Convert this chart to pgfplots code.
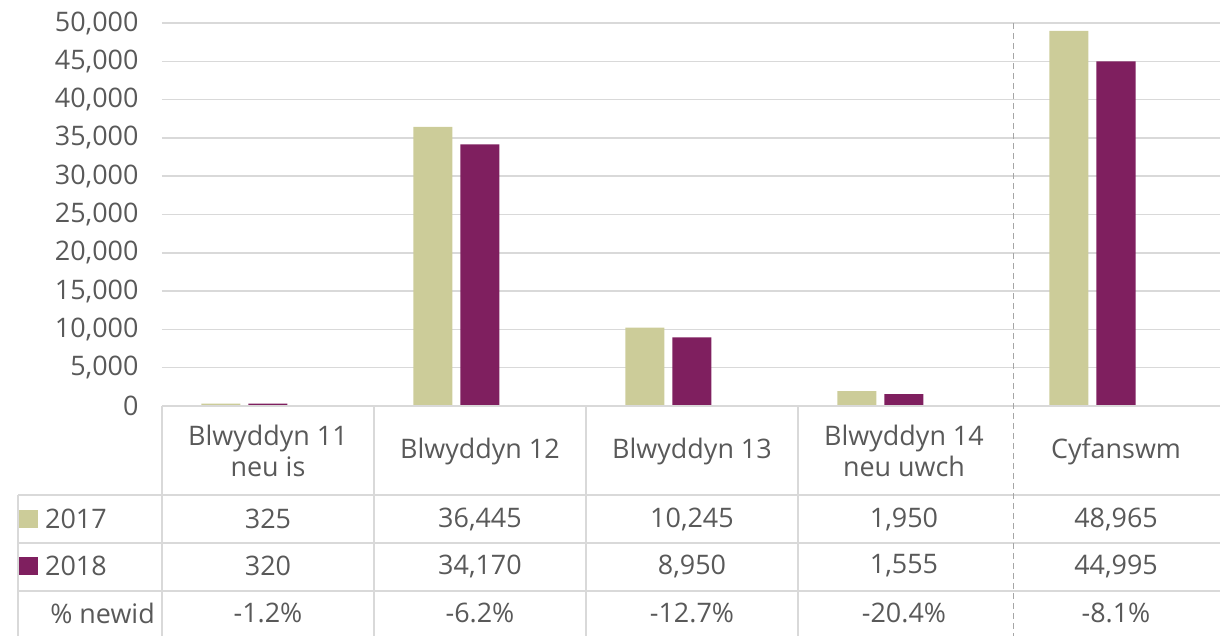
\documentclass[border=0pt]{standalone}
\usepackage{pgfplots}
\pgfplotsset{compat=1.18}
\usepackage{fontspec}
\setmainfont{Open Sans}
\definecolor{c17}{HTML}{CCCC99}
\definecolor{c18}{HTML}{7F1F5F}
\definecolor{txt}{HTML}{595959}
\definecolor{grd}{HTML}{D9D9D9}
\definecolor{dsh}{HTML}{A6A6A6}
\newcommand\fs{\fontsize{27}{31}\selectfont}
\begin{document}
\begin{tikzpicture}
\begin{axis}[
  scale only axis, width=1060bp, height=383bp,
  xmin=-0.5, xmax=4.5, ymin=0, ymax=50000,
  axis line style={draw=none},
  xtick=\empty,
  ytick={0,5000,...,50000},
  ymajorgrids, major grid style={grd, line width=1.5bp},
  major tick length=0pt,
  yticklabel style={font=\fs, text=txt, xshift=-20bp},
  /pgf/number format/1000 sep={,},
  /pgf/number format/assume math mode=true,
  scaled y ticks=false,
  clip=false,
  ybar, bar width=0.184,
]
\addplot[fill=c17, draw=none, bar shift=-0.222] coordinates {(0,325) (1,36445) (2,10245) (3,1950) (4,48965)};
\addplot[fill=c18, draw=none, bar shift=0] coordinates {(0,320) (1,34170) (2,8950) (3,1555) (4,44995)};

% data table grid
\draw[grd, line width=1.5bp] (axis cs:-0.5,0) -- (axis cs:4.5,0);
\draw[grd, line width=1.5bp] (axis cs:-1.179,-11619) -- (axis cs:4.5,-11619);
\draw[grd, line width=1.5bp] (axis cs:-1.179,-17885) -- (axis cs:4.5,-17885);
\draw[grd, line width=1.5bp] (axis cs:-1.179,-24151) -- (axis cs:4.5,-24151);
\draw[grd, line width=1.5bp] (axis cs:-1.179,-11619) -- (axis cs:-1.179,-31000);
\pgfplotsinvokeforeach{-0.5,0.5,1.5,2.5,4.5}{
  \draw[grd, line width=1.5bp] (axis cs:#1,0) -- (axis cs:#1,-31000);
}
\draw[dsh, line width=1bp, dash pattern=on 6bp off 4bp] (axis cs:3.515,50000) -- (axis cs:3.515,-31000);

% header row
\node[font=\fs, text=txt, align=center] at (axis cs:0,-5875) {Blwyddyn 11\\neu is};
\node[font=\fs, text=txt, align=center] at (axis cs:1,-5875) {Blwyddyn 12};
\node[font=\fs, text=txt, align=center] at (axis cs:2,-5875) {Blwyddyn 13};
\node[font=\fs, text=txt, align=center] at (axis cs:3,-5875) {Blwyddyn 14\\neu uwch};
\node[font=\fs, text=txt, align=center] at (axis cs:4,-5875) {Cyfanswm};

% legend column
\fill[c17] (axis cs:-1.174,-13577) rectangle (axis cs:-1.085,-15927);
\fill[c18] (axis cs:-1.174,-19713) rectangle (axis cs:-1.085,-22063);
\node[font=\fs, text=txt, anchor=west, inner sep=0pt] at (axis cs:-1.052,-14752) {2017};
\node[font=\fs, text=txt, anchor=west, inner sep=0pt] at (axis cs:-1.052,-20888) {2018};
\node[font=\fs, text=txt, anchor=east, inner sep=0pt] at (axis cs:-0.533,-27024) {\% newid};

% rows
\node[font=\fs, text=txt] at (axis cs:0,-14752) {325};
\node[font=\fs, text=txt] at (axis cs:1,-14752) {36,445};
\node[font=\fs, text=txt] at (axis cs:2,-14752) {10,245};
\node[font=\fs, text=txt] at (axis cs:3,-14752) {1,950};
\node[font=\fs, text=txt] at (axis cs:4,-14752) {48,965};
\node[font=\fs, text=txt] at (axis cs:0,-20888) {320};
\node[font=\fs, text=txt] at (axis cs:1,-20888) {34,170};
\node[font=\fs, text=txt] at (axis cs:2,-20888) {8,950};
\node[font=\fs, text=txt] at (axis cs:3,-20888) {1,555};
\node[font=\fs, text=txt] at (axis cs:4,-20888) {44,995};
\node[font=\fs, text=txt] at (axis cs:0,-27024) {-1.2\%};
\node[font=\fs, text=txt] at (axis cs:1,-27024) {-6.2\%};
\node[font=\fs, text=txt] at (axis cs:2,-27024) {-12.7\%};
\node[font=\fs, text=txt] at (axis cs:3,-27024) {-20.4\%};
\node[font=\fs, text=txt] at (axis cs:4,-27024) {-8.1\%};

\coordinate (bl) at (axis cs:-1.264,-29896);
\coordinate (tr) at (axis cs:4.4906,53003);
\end{axis}
\pgfresetboundingbox
\useasboundingbox (bl) rectangle (tr);
\end{tikzpicture}
\end{document}
